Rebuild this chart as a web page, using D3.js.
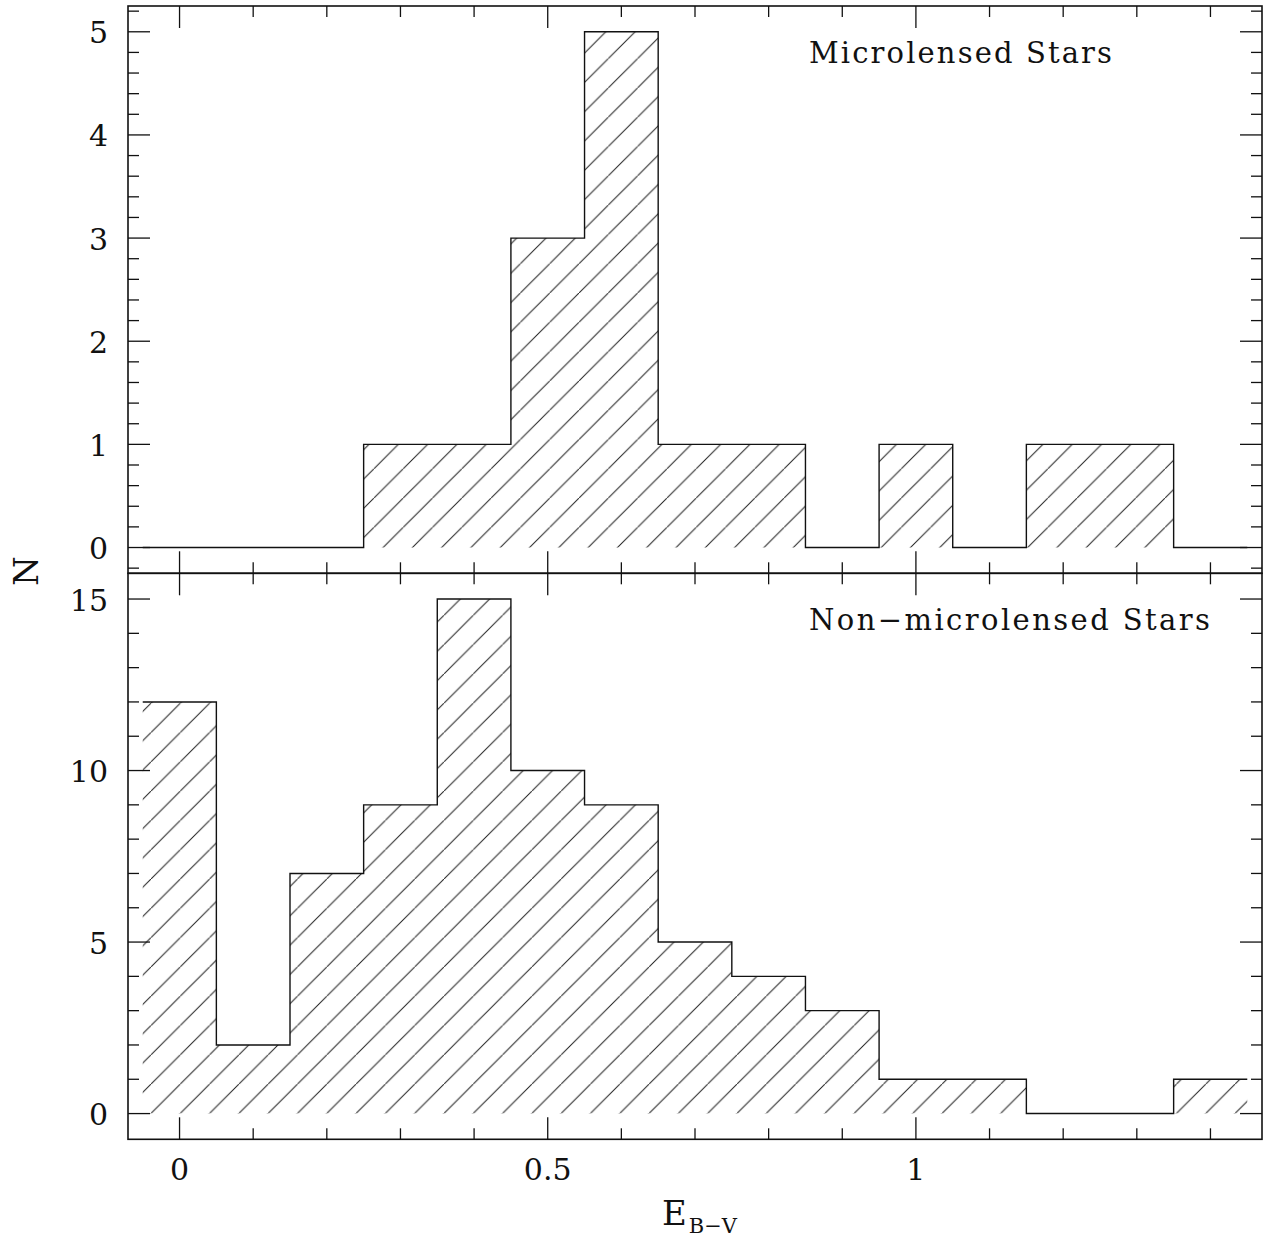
<!DOCTYPE html>
<html>
<head>
<meta charset="utf-8">
<script src="https://cdn.jsdelivr.net/npm/d3@7"></script>
<style>
  html, body { margin: 0; padding: 0; background: #fff; }
  svg { display: block; }
  text { font-family: "DejaVu Serif", "Liberation Serif", serif; fill: #111; }
</style>
</head>
<body>
<svg id="chart" width="1265" height="1245"></svg>
<script>
// Colour excess bins (bin centres, width 0.1)
const ebvCentres = [0.0, 0.1, 0.2, 0.3, 0.4, 0.5, 0.6, 0.7, 0.8, 0.9, 1.0, 1.1, 1.2, 1.3, 1.4];
const binWidth = 0.1;

// Counts per bin
const microlensed    = [0, 0, 0, 1, 1, 3, 5, 1, 1, 0, 1, 0, 1, 1, 0];
const nonMicrolensed = [12, 2, 7, 9, 15, 10, 9, 5, 4, 3, 1, 1, 0, 0, 1];

// Tick values
const xMajorTicks = [0, 0.5, 1];
const xMinorTicks = [0.1, 0.2, 0.3, 0.4, 0.6, 0.7, 0.8, 0.9, 1.1, 1.2, 1.3, 1.4];
const yMajorTop = [0, 1, 2, 3, 4, 5];
const yMinorTop = d3.range(-0.2, 5.3, 0.2).map(v => +v.toFixed(1)).filter(v => Math.abs(v - Math.round(v)) > 1e-6);
const yMajorBottom = [0, 5, 10, 15];
const yMinorBottom = [1, 2, 3, 4, 6, 7, 8, 9, 11, 12, 13, 14];

const panelLabels = ["Microlensed Stars", "Non\u2212microlensed Stars"];

const svg = d3.select("#chart");

const left = 128, right = 1262;
const x = d3.scaleLinear().domain([-0.07, 1.47]).range([left, right]);

const panels = [
  { counts: microlensed, top: 6, bottom: 573.3, domain: [-0.25, 5.25],
    major: yMajorTop, minor: yMinorTop, label: panelLabels[0], labelY: 63, phase: 22.3 },
  { counts: nonMicrolensed, top: 573.3, bottom: 1139.3, domain: [-0.75, 15.75],
    major: yMajorBottom, minor: yMinorBottom, label: panelLabels[1], labelY: 630, phase: 4.5 }
];

const majorLen = 22, minorLen = 11;
const hatchStep = 29.3;
const defs = svg.append("defs");

panels.forEach((p, i) => {
  const y = d3.scaleLinear().domain(p.domain).range([p.bottom, p.top]);
  const g = svg.append("g");

  // Diagonal hatch pattern
  const pat = defs.append("pattern")
    .attr("id", "hatch" + i)
    .attr("patternUnits", "userSpaceOnUse")
    .attr("x", p.phase).attr("y", 0)
    .attr("width", hatchStep).attr("height", hatchStep);
  pat.append("line")
    .attr("x1", -1).attr("y1", hatchStep + 1)
    .attr("x2", hatchStep + 1).attr("y2", -1)
    .attr("stroke", "#222").attr("stroke-width", 1);

  // Step points: left edge of each bin, plus the final right edge
  const pts = p.counts.map((c, k) => [ebvCentres[k] - binWidth / 2, c]);
  pts.push([ebvCentres[ebvCentres.length - 1] + binWidth / 2, p.counts[p.counts.length - 1]]);

  const area = d3.area()
    .x(d => x(d[0])).y0(y(0)).y1(d => y(d[1]))
    .curve(d3.curveStepAfter);
  g.append("path").attr("d", area(pts))
    .attr("fill", `url(#hatch${i})`).attr("stroke", "none");

  const line = d3.line()
    .x(d => x(d[0])).y(d => y(d[1]))
    .curve(d3.curveStepAfter);
  g.append("path").attr("d", line(pts))
    .attr("fill", "none").attr("stroke", "#111").attr("stroke-width", 1.4);

  // Frame
  g.append("rect")
    .attr("x", left).attr("y", p.top)
    .attr("width", right - left).attr("height", p.bottom - p.top)
    .attr("fill", "none").attr("stroke", "#111").attr("stroke-width", 1.6);

  // Inward ticks on all four sides
  const tickG = g.append("g").attr("stroke", "#111").attr("stroke-width", 1.3);
  const xt = [...xMajorTicks.map(v => [v, majorLen]), ...xMinorTicks.map(v => [v, minorLen])];
  xt.forEach(([v, len]) => {
    tickG.append("line").attr("x1", x(v)).attr("x2", x(v)).attr("y1", p.bottom).attr("y2", p.bottom - len);
    tickG.append("line").attr("x1", x(v)).attr("x2", x(v)).attr("y1", p.top).attr("y2", p.top + len);
  });
  const yt = [...p.major.map(v => [v, majorLen]), ...p.minor.map(v => [v, minorLen])];
  yt.forEach(([v, len]) => {
    tickG.append("line").attr("y1", y(v)).attr("y2", y(v)).attr("x1", left).attr("x2", left + len);
    tickG.append("line").attr("y1", y(v)).attr("y2", y(v)).attr("x1", right).attr("x2", right - len);
  });

  // Y tick labels
  g.selectAll("text.ylab").data(p.major).enter().append("text")
    .attr("class", "ylab")
    .attr("x", 108).attr("y", d => y(d) + 11.5)
    .attr("text-anchor", "end")
    .attr("font-size", 30)
    .text(d => d);

  // Panel label
  g.append("text")
    .attr("x", 809).attr("y", p.labelY)
    .attr("font-size", 29)
    .attr("textLength", i === 0 ? 303 : 401)
    .attr("lengthAdjust", "spacing")
    .text(p.label);
});

// X tick labels under the lower panel
svg.selectAll("text.xlab").data(xMajorTicks).enter().append("text")
  .attr("class", "xlab")
  .attr("x", d => x(d)).attr("y", 1180)
  .attr("text-anchor", "middle")
  .attr("font-size", 30)
  .text(d => d);

// Axis titles
svg.append("text")
  .attr("transform", "translate(38,571) rotate(-90)")
  .attr("text-anchor", "middle")
  .attr("font-size", 34)
  .text("N");

const xt = svg.append("text").attr("x", 662).attr("y", 1225);
xt.append("tspan").attr("font-size", 34).text("E");
xt.append("tspan").attr("font-size", 21).attr("dx", 2).attr("dy", 8).text("B\u2212V");
</script>
</body>
</html>
